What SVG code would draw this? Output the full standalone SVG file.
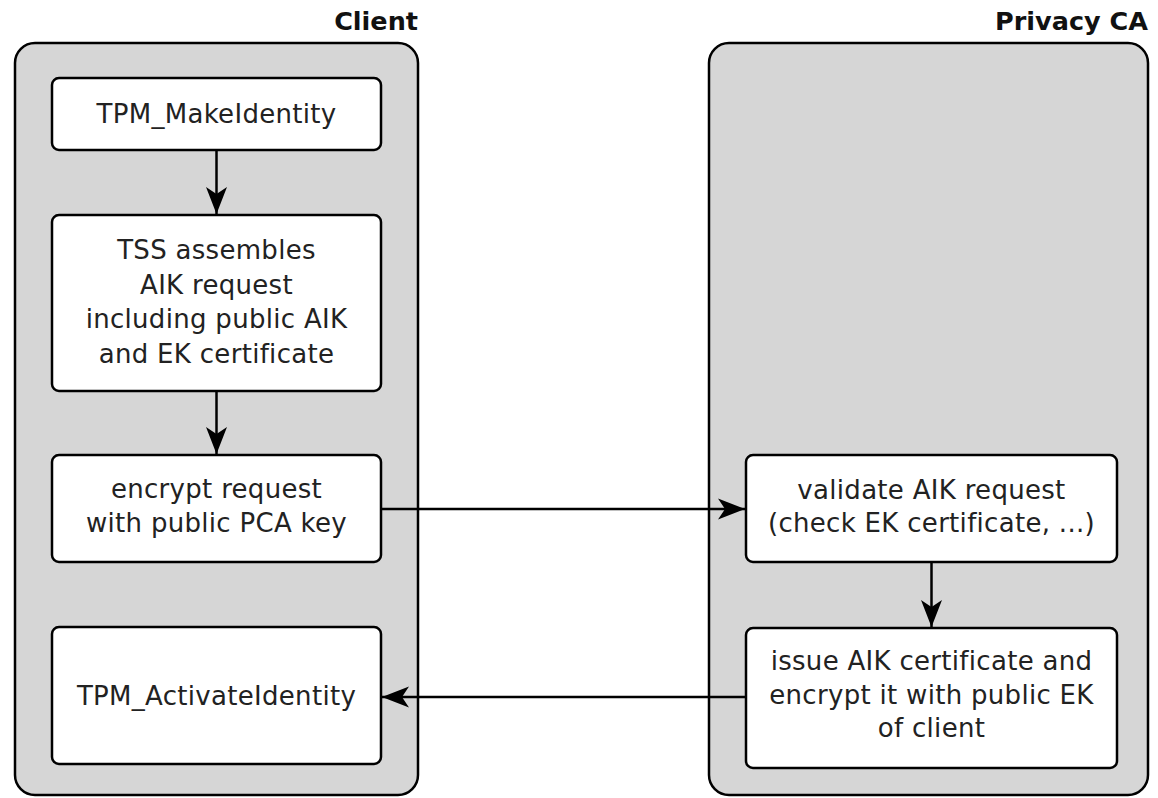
<svg xmlns="http://www.w3.org/2000/svg" width="1158" height="798" viewBox="0 0 1158 798">
<style>
.lane{fill:#d6d6d6;stroke:#000;stroke-width:2.5}
.box{fill:#fff;stroke:#000;stroke-width:2.5}
.t{font-family:"DejaVu Sans",Verdana,sans-serif;font-size:26px;letter-spacing:0.3px;fill:#222;text-anchor:middle}
.title{font-family:"DejaVu Sans",Verdana,sans-serif;font-size:25.5px;font-weight:bold;fill:#111;text-anchor:end}
.c{fill:none;stroke:#000;stroke-width:2.5}
</style>
<defs>
<marker id="ah" markerUnits="userSpaceOnUse" markerWidth="30" markerHeight="24" viewBox="-28 -12 30 24" refX="0" refY="0" orient="auto">
<path d="M0,0 L-27,-10.5 L-20,0 L-27,10.5 Z" fill="#000"/>
</marker>
</defs>
<rect width="1158" height="798" fill="#fff"/>
<g id="lane-client">
<rect class="lane" x="15" y="43" width="403" height="752" rx="20"/>
<text class="title" x="418" y="30">Client</text>
</g>
<g id="lane-pca">
<rect class="lane" x="709" y="43" width="439" height="752" rx="20"/>
<text class="title" x="1148" y="30">Privacy CA</text>
</g>
<g id="n-make">
<rect class="box" x="52" y="78" width="329" height="72" rx="7"/>
<text class="t" x="216.5" y="123">TPM_MakeIdentity</text>
</g>
<g id="n-tss">
<rect class="box" x="52" y="215" width="329" height="176" rx="7"/>
<text class="t" x="216.5" y="259">TSS assembles</text>
<text class="t" x="216.5" y="293.5">AIK request</text>
<text class="t" x="216.5" y="328">including public AIK</text>
<text class="t" x="216.5" y="362.5">and EK certificate</text>
</g>
<g id="n-encrypt">
<rect class="box" x="52" y="455" width="329" height="107" rx="7"/>
<text class="t" x="216.5" y="498">encrypt request</text>
<text class="t" x="216.5" y="532">with public PCA key</text>
</g>
<g id="n-activate">
<rect class="box" x="52" y="627" width="329" height="137" rx="7"/>
<text class="t" x="216.5" y="705">TPM_ActivateIdentity</text>
</g>
<g id="n-validate">
<rect class="box" x="746" y="455" width="371" height="107" rx="7"/>
<text class="t" x="931.5" y="499">validate AIK request</text>
<text class="t" x="931.5" y="532">(check EK certificate, ...)</text>
</g>
<g id="n-issue">
<rect class="box" x="746" y="628" width="371" height="140" rx="7"/>
<text class="t" x="931.5" y="670">issue AIK certificate and</text>
<text class="t" x="931.5" y="703.5">encrypt it with public EK</text>
<text class="t" x="931.5" y="737">of client</text>
</g>
<g id="connectors">
<line class="c" x1="216.5" y1="151" x2="216.5" y2="214" marker-end="url(#ah)"/>
<line class="c" x1="216.5" y1="392" x2="216.5" y2="454" marker-end="url(#ah)"/>
<line class="c" x1="382" y1="509" x2="745" y2="509" marker-end="url(#ah)"/>
<line class="c" x1="931.5" y1="563" x2="931.5" y2="627" marker-end="url(#ah)"/>
<line class="c" x1="745" y1="697" x2="382" y2="697" marker-end="url(#ah)"/>
</g>
</svg>
